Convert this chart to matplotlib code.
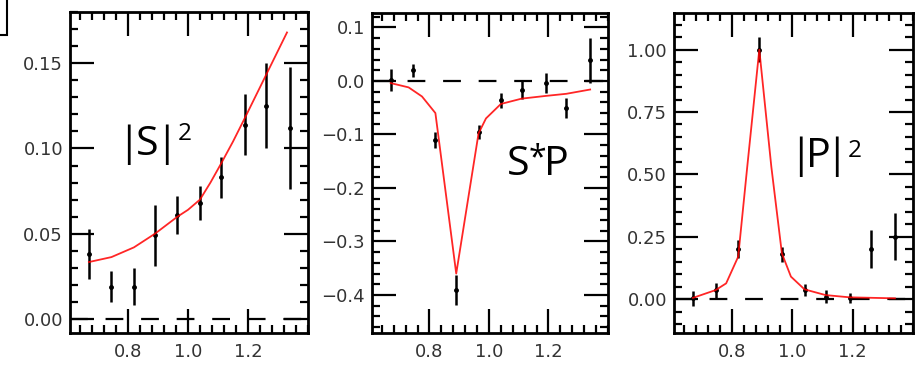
import numpy as np
import matplotlib
matplotlib.use('Agg')
import matplotlib.pyplot as plt
from matplotlib.ticker import MultipleLocator, FixedLocator
from matplotlib.patches import Rectangle

# bin centres shared by all three panels
mass = [0.67, 0.745, 0.82, 0.89, 0.965, 1.04, 1.11, 1.19, 1.26, 1.34]

# |S|^2
s2_val = [0.038, 0.019, 0.019, 0.049, 0.061, 0.068, 0.083, 0.114, 0.125, 0.112]
s2_err = [0.0145, 0.009, 0.011, 0.018, 0.011, 0.0097, 0.012, 0.018, 0.025, 0.036]
s2_fit_x = [0.67, 0.745, 0.82, 0.89, 0.965, 1.0, 1.04, 1.075, 1.11, 1.15, 1.19, 1.26, 1.33]
s2_fit_y = [0.0334, 0.0363, 0.042, 0.050, 0.060, 0.064, 0.070, 0.080, 0.091, 0.104, 0.118, 0.143, 0.168]

# S*P
sp_val = [0.002, 0.02, -0.11, -0.39, -0.095, -0.036, -0.017, -0.004, -0.05, 0.039]
sp_err = [0.02, 0.012, 0.015, 0.028, 0.013, 0.014, 0.017, 0.018, 0.019, 0.042]
sp_fit_x = [0.67, 0.73, 0.775, 0.82, 0.89, 0.965, 0.99, 1.04, 1.11, 1.19, 1.26, 1.34]
sp_fit_y = [-0.004, -0.012, -0.029, -0.06, -0.36, -0.098, -0.07, -0.043, -0.033, -0.028, -0.024, -0.016]

# |P|^2
p2_val = [0.004, 0.036, 0.2, 1.0, 0.18, 0.036, 0.01, 0.005, 0.2, 0.25]
p2_err = [0.03, 0.03, 0.035, 0.05, 0.03, 0.025, 0.025, 0.02, 0.075, 0.095]
p2_fit_x = [0.67, 0.745, 0.78, 0.82, 0.85, 0.89, 0.93, 0.965, 0.995, 1.04, 1.11, 1.19, 1.34]
p2_fit_y = [0.005, 0.036, 0.063, 0.17, 0.53, 1.0, 0.53, 0.183, 0.09, 0.039, 0.016, 0.007, 0.003]

panels = [
    dict(val=s2_val, err=s2_err, fx=s2_fit_x, fy=s2_fit_y, ylim=(-0.0082, 0.18),
         yticks=[0.0, 0.05, 0.10, 0.15], ylabels=['0.00', '0.05', '0.10', '0.15'], yminor=0.01,
         rect=[70 / 916, 37 / 370, 238 / 916, 321 / 370]),
    dict(val=sp_val, err=sp_err, fx=sp_fit_x, fy=sp_fit_y, ylim=(-0.471, 0.127),
         yticks=[0.1, 0.0, -0.1, -0.2, -0.3, -0.4],
         ylabels=['0.1', '0.0', '\u22120.1', '\u22120.2', '\u22120.3', '\u22120.4'], yminor=0.02,
         rect=[372 / 916, 37 / 370, 236 / 916, 320 / 370]),
    dict(val=p2_val, err=p2_err, fx=p2_fit_x, fy=p2_fit_y, ylim=(-0.136, 1.147),
         yticks=[0.0, 0.25, 0.5, 0.75, 1.0], ylabels=['0.00', '0.25', '0.50', '0.75', '1.00'], yminor=0.05,
         rect=[674 / 916, 37 / 370, 239 / 916, 320 / 370]),
]

# panel labels built glyph by glyph: (text, x px, baseline y px from top, size)
label_parts = [
    ('|', 128.5, 155, 29.7), ('S', 147.5, 155, 29.7), ('|', 166.5, 155, 29.7), ('2', 184.5, 140, 17.6),
    ('S', 518, 175, 29.7), ('*', 537, 167, 23), ('P', 556, 175, 29.7),
    ('|', 800, 167, 29.7), ('P', 818, 167, 29.7), ('|', 836.5, 167, 29.7), ('2', 854.5, 157, 17.6),
]

fig = plt.figure(figsize=(9.16, 3.70), dpi=100)

for p in panels:
    ax = fig.add_axes(p['rect'])
    ax.axhline(0, color='black', lw=1.6, dashes=(8, 8), zorder=1)
    ax.errorbar(mass, p['val'], yerr=p['err'], fmt='o', color='black', ms=2.5,
                elinewidth=1.8, capsize=0, zorder=2)
    ax.plot(p['fx'], p['fy'], color='red', lw=1.3, alpha=0.85, zorder=3)

    ax.set_xlim(0.607, 1.4)
    ax.set_ylim(*p['ylim'])
    ax.xaxis.set_major_locator(FixedLocator([0.8, 1.0, 1.2]))
    ax.xaxis.set_minor_locator(MultipleLocator(0.04))
    ax.set_xticklabels(['0.8', '1.0', '1.2'])
    ax.set_yticks(p['yticks'])
    ax.set_yticklabels(p['ylabels'])
    ax.yaxis.set_minor_locator(MultipleLocator(p['yminor']))
    ax.tick_params(which='both', direction='in', top=True, right=True, width=1.6,
                   colors='black', labelcolor='#333333', labelsize=13)
    ax.tick_params(which='major', length=17)
    ax.tick_params(which='minor', length=6)
    ax.tick_params(axis='x', pad=7)
    ax.tick_params(axis='y', pad=5)
    for s in ax.spines.values():
        s.set_linewidth(2)

for t, x, y, size in label_parts:
    fig.text(x / 916, 1 - y / 370, t, fontsize=size, family='Open Sans',
             ha='center', va='baseline', color='black')

# clipped corner of a box at the top-left
fig.patches.append(Rectangle((-0.05, 1 - 35 / 370), 0.05 + 7 / 916, 0.2,
                             transform=fig.transFigure, fill=False, lw=1.5,
                             edgecolor='black'))

fig.savefig('out.png', dpi=100)
